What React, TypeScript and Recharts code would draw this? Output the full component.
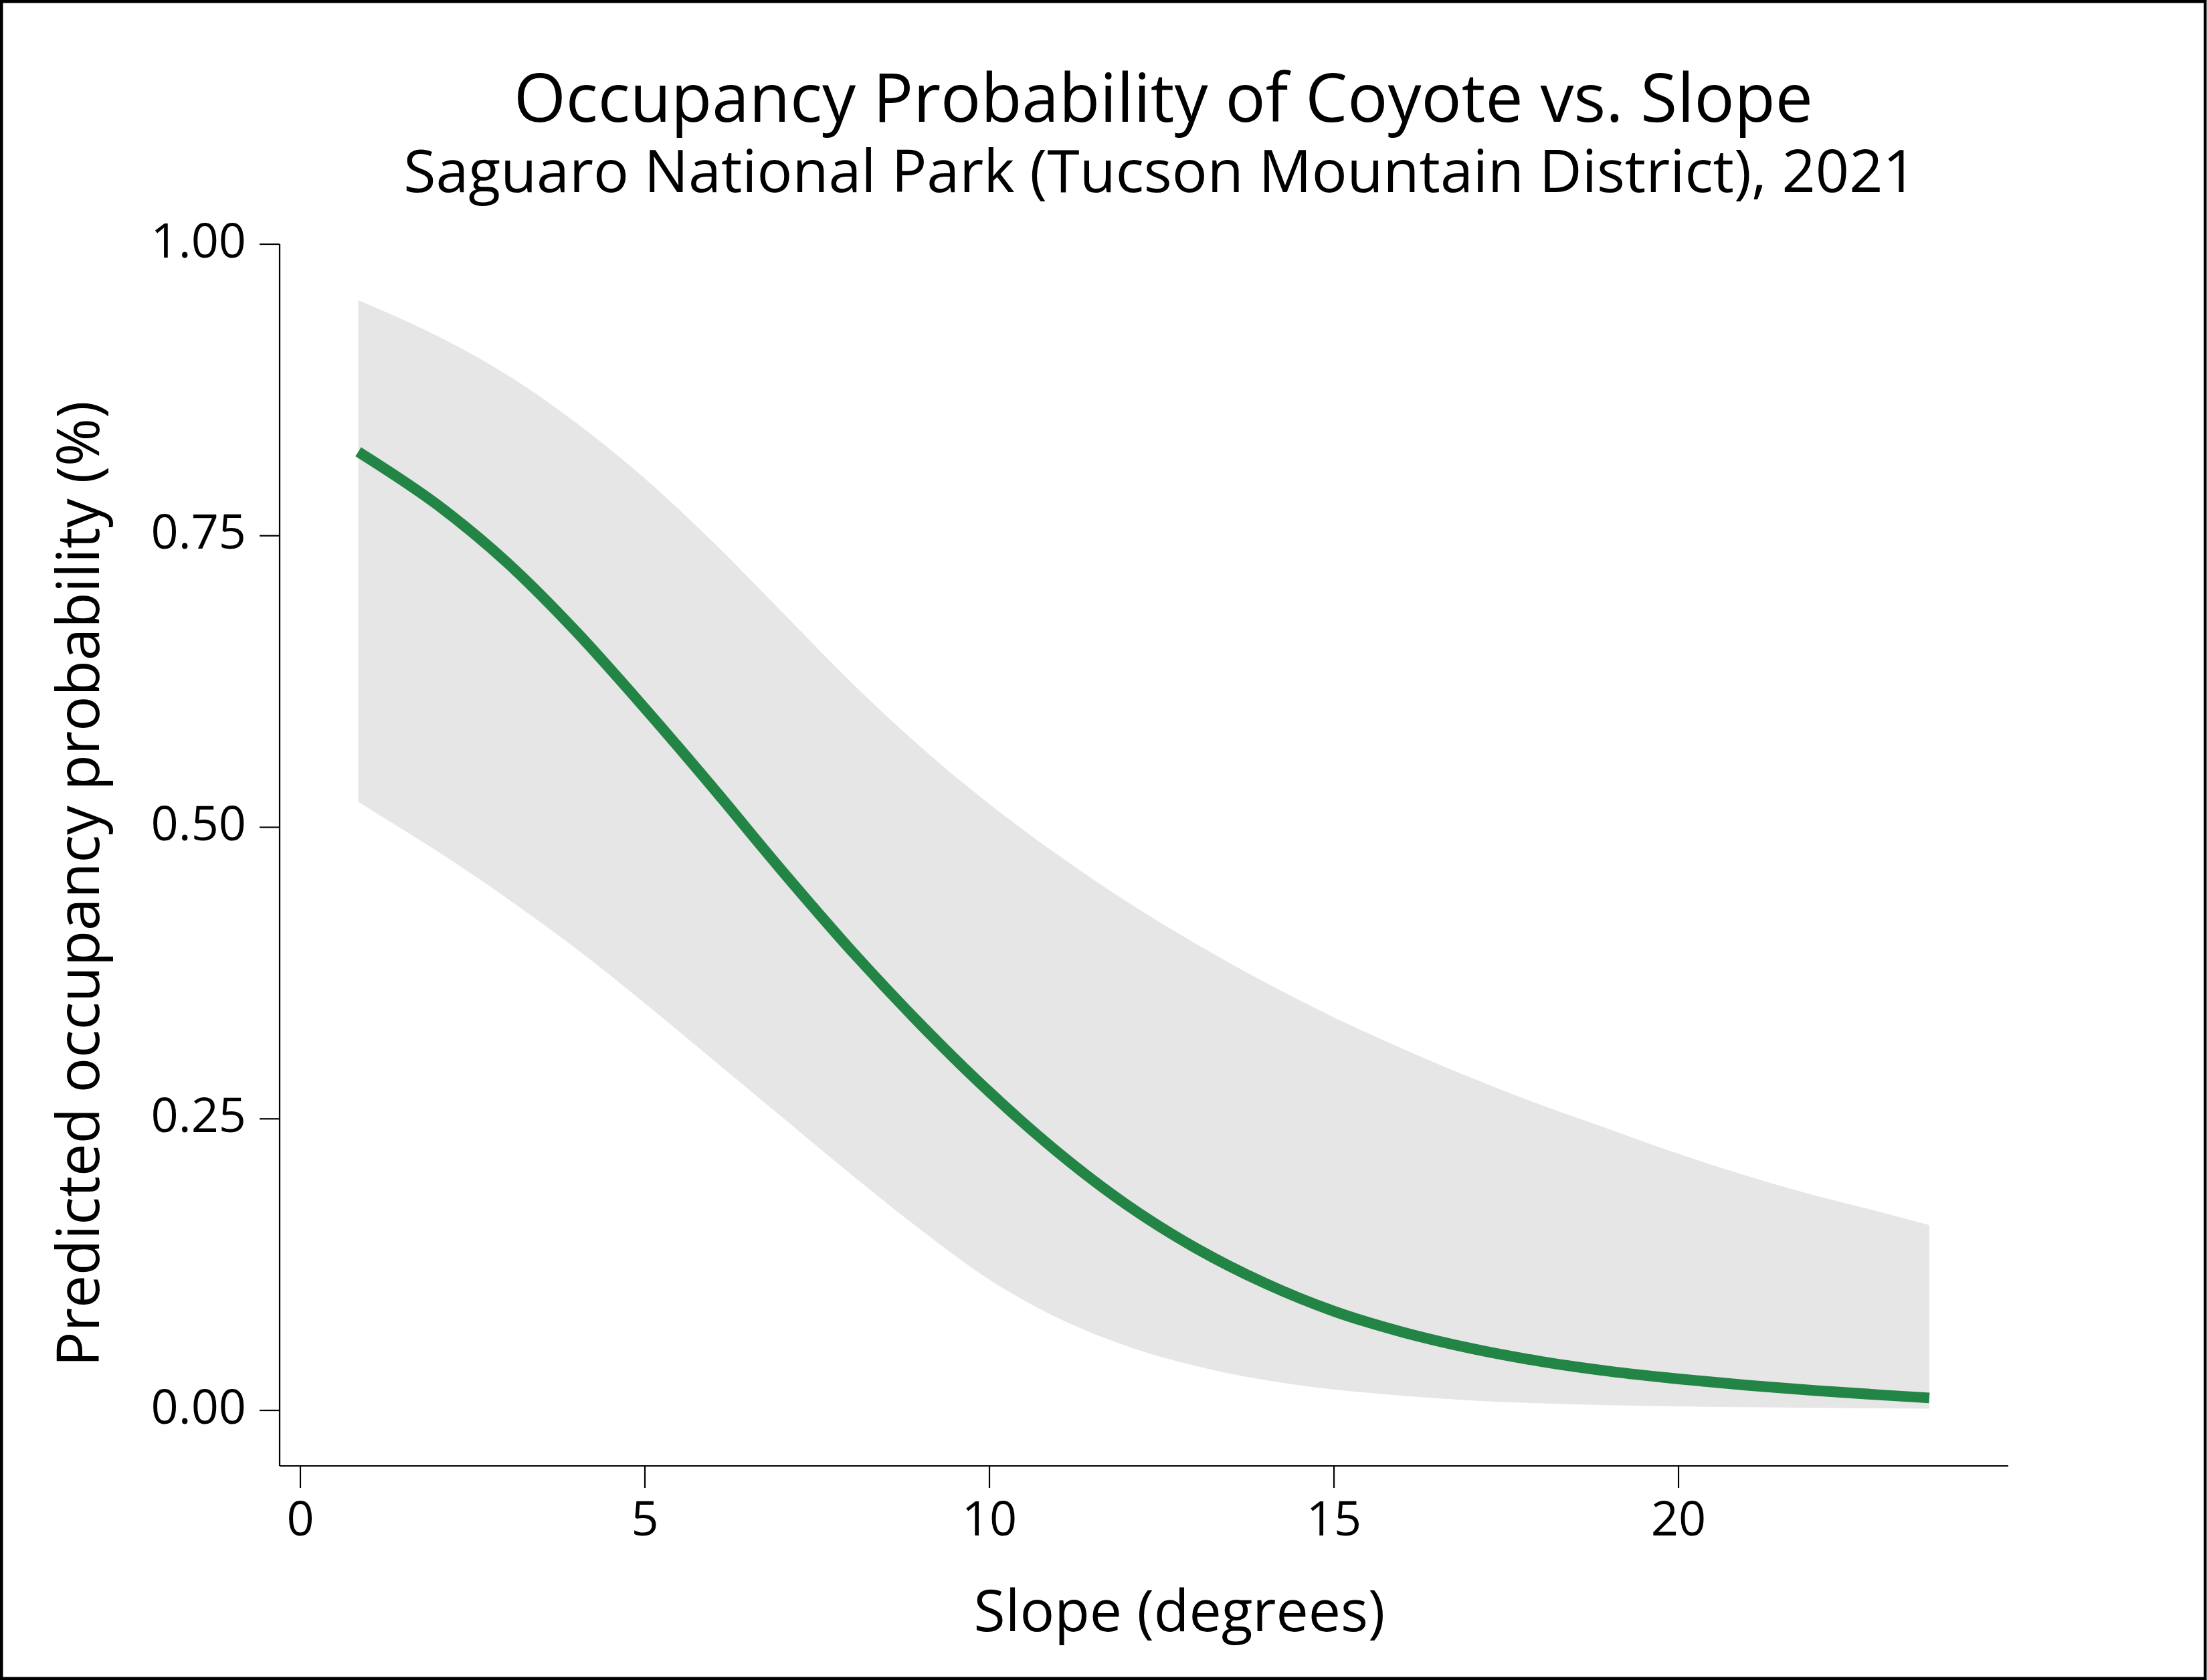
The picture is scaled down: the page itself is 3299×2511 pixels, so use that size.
import {
  ComposedChart,
  Area,
  Line,
  XAxis,
  YAxis,
} from "recharts";

// slope (degrees) where the prediction was read
const slope = [0.84, 1, 2, 3, 4, 5, 6, 7, 8, 9, 10, 11, 12, 13, 14, 15, 16, 17, 18, 19, 20, 21, 22, 23, 23.64];

// predicted occupancy (mean)
const predicted = [0.822, 0.816, 0.776, 0.727, 0.668, 0.602, 0.533, 0.462, 0.394, 0.331, 0.273, 0.221, 0.176, 0.139, 0.109, 0.085, 0.067, 0.053, 0.042, 0.0335, 0.027, 0.0215, 0.017, 0.013, 0.0107];

// 95% interval
const lower = [0.522, 0.516, 0.479, 0.439, 0.396, 0.349, 0.3, 0.251, 0.202, 0.155, 0.112, 0.079, 0.055, 0.038, 0.026, 0.018, 0.0125, 0.0085, 0.006, 0.0045, 0.0035, 0.0027, 0.0021, 0.0017, 0.0015];
const upper = [0.952, 0.948, 0.921, 0.888, 0.847, 0.799, 0.744, 0.684, 0.624, 0.569, 0.52, 0.476, 0.436, 0.4, 0.367, 0.337, 0.31, 0.285, 0.262, 0.241, 0.22, 0.201, 0.184, 0.169, 0.159];

const xTicks = [0, 5, 10, 15, 20];
const yTicks = [0, 0.25, 0.5, 0.75, 1];

const xDomain: [number, number] = [-0.301, 24.786];
const yDomain: [number, number] = [-0.0476, 1];

const data = slope.map((s, i) => ({
  slope: s,
  fit: predicted[i],
  band: [lower[i], upper[i]],
}));

const W = 3299;
const H = 2511;
const FONT = "'Open Sans', 'Noto Sans', sans-serif";
const GREEN = "#238545";

const App = () => {
  const tickStyle = { fontFamily: FONT, fontSize: 72, fill: "#000" };
  const lineStyle = { stroke: "#000", strokeWidth: 2.2 };

  return (
    <div style={{ position: "absolute", left: 0, top: 0, width: W, height: H, background: "#fff" }}>
      <ComposedChart
        width={W}
        height={H}
        data={data}
        margin={{ top: 365, right: 297, left: 218, bottom: 220 }}
      >
        <XAxis
          type="number"
          dataKey="slope"
          domain={xDomain}
          ticks={xTicks}
          allowDataOverflow
          height={100}
          tick={tickStyle}
          tickSize={33}
          tickMargin={20}
          axisLine={lineStyle}
          tickLine={lineStyle}
        />
        <XAxis
          xAxisId="top"
          orientation="top"
          type="number"
          domain={xDomain}
          allowDataOverflow
          height={0}
          tick={false}
          tickLine={false}
          axisLine={lineStyle}
        />
        <YAxis
          type="number"
          domain={yDomain}
          ticks={yTicks}
          allowDataOverflow
          width={200}
          tick={{ ...tickStyle, dy: -6 }}
          tickFormatter={(v: number) => v.toFixed(2)}
          tickSize={30}
          tickMargin={20}
          axisLine={lineStyle}
          tickLine={lineStyle}
        />
        <YAxis
          yAxisId="right"
          orientation="right"
          type="number"
          domain={yDomain}
          allowDataOverflow
          width={0}
          tick={false}
          tickLine={false}
          axisLine={lineStyle}
        />
        <Area
          dataKey="band"
          type="monotone"
          stroke="none"
          fill="#E6E6E6"
          fillOpacity={1}
          isAnimationActive={false}
        />
        <Line
          dataKey="fit"
          type="monotone"
          stroke={GREEN}
          strokeWidth={16}
          dot={false}
          isAnimationActive={false}
        />
      </ComposedChart>

      <svg
        width={W}
        height={H}
        style={{ position: "absolute", left: 0, top: 0, pointerEvents: "none" }}
        fontFamily={FONT}
      >
        <rect x={2.25} y={2.25} width={W - 5} height={H - 4.5} fill="none" stroke="#000" strokeWidth={4.5} />
        <text x={1739} y={182} textAnchor="middle" fontSize={100} fill="#000">
          Occupancy Probability of Coyote vs. Slope
        </text>
        <text x={1734} y={287} textAnchor="middle" fontSize={88} fill="#000">
          Saguaro National Park (Tucson Mountain District), 2021
        </text>
        <text x={1763} y={2438} textAnchor="middle" fontSize={86} fill="#000">
          Slope (degrees)
        </text>
        <text x={148} y={1321} textAnchor="middle" fontSize={87} fill="#000" transform="rotate(-90 148 1321)">
          Predicted occupancy probability (%)
        </text>
      </svg>
    </div>
  );
};

export default App;
